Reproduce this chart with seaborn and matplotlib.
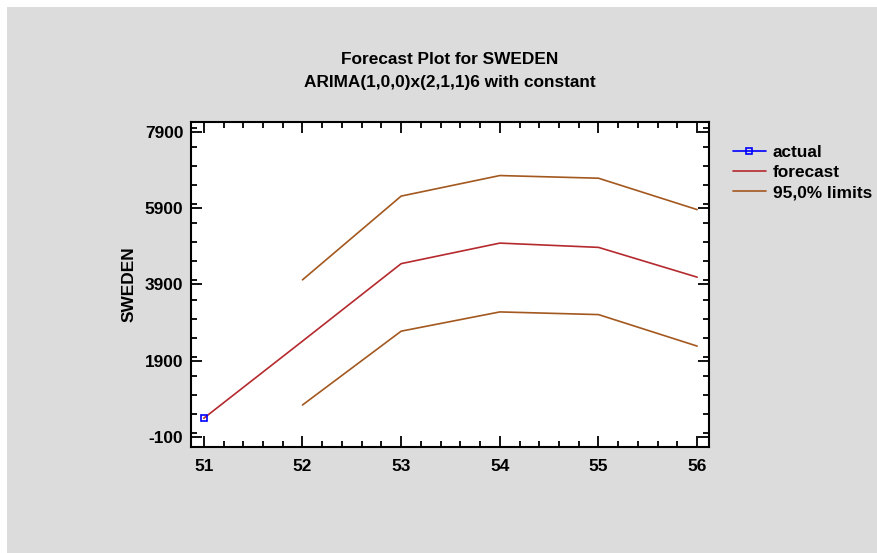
import seaborn as sns
import matplotlib.pyplot as plt
import pandas as pd
from matplotlib.patches import Rectangle
from matplotlib.ticker import MultipleLocator

sns.set_style("white")
plt.rcParams['font.family'] = ['Liberation Sans', 'DejaVu Sans']
plt.rcParams['font.weight'] = 'bold'
plt.rcParams['text.color'] = 'black'
plt.rcParams['axes.labelcolor'] = 'black'
plt.rcParams['xtick.color'] = 'black'
plt.rcParams['ytick.color'] = 'black'
plt.rcParams['axes.unicode_minus'] = False

# values
actual_x = [51]
actual_y = [394]
forecast_x = [51, 52, 53, 54, 55, 56]
forecast_y = [394, 2412, 4441, 4979, 4867, 4087]
limit_x = [52, 53, 54, 55, 56]
upper_y = [4017, 6210, 6748, 6678, 5856]
lower_y = [740, 2673, 3177, 3107, 2282]
y_ticks = [-100, 1900, 3900, 5900, 7900]

fs = 12.4

fig = plt.figure(figsize=(8.78, 5.53), dpi=100)
fig.patch.set_facecolor("white")
fig.patches.append(Rectangle((7 / 878, 0), 1, 1 - 7 / 553, transform=fig.transFigure,
                             facecolor="#dcdcdc", edgecolor="none", zorder=-10))
ax = fig.add_axes([191 / 878, 1 - 447 / 553, 518 / 878, 325 / 553])
ax.set_facecolor("white")

forecast_col = "#b52a2e"
limit_col = "#a3581f"

sns.lineplot(x=limit_x, y=upper_y, ax=ax, color=limit_col, lw=1.2, label="95,0% limits")
sns.lineplot(x=limit_x, y=lower_y, ax=ax, color=limit_col, lw=1.2, label="_nolegend_")
sns.lineplot(x=forecast_x, y=forecast_y, ax=ax, color=forecast_col, lw=1.2, label="forecast")
sns.lineplot(x=actual_x, y=actual_y, ax=ax, color="#0000ff", lw=1.2, marker="s",
             markersize=5, markerfacecolor="none", markeredgecolor="#0000ff",
             markeredgewidth=1.2, label="actual")

ax.set_xlim(50.87, 56.12)
ax.set_ylim(-360, 8150)
ax.set_xticks(forecast_x)
ax.set_yticks(y_ticks)
ax.xaxis.set_minor_locator(MultipleLocator(0.2))
ax.yaxis.set_minor_locator(MultipleLocator(500))
ax.tick_params(which="both", direction="in", top=True, right=True, bottom=True, left=True,
               width=1.3, color="black")
ax.tick_params(which="major", length=8, labelsize=fs)
ax.tick_params(axis="y", which="major", pad=5.5)
ax.tick_params(axis="x", which="major", pad=8.5)
ax.tick_params(which="minor", length=4)
for lab in ax.get_xticklabels() + ax.get_yticklabels():
    lab.set_fontweight("bold")
for s in ax.spines.values():
    s.set_color("black")
    s.set_linewidth(1.5)
    s.set_visible(True)

ax.set_xlabel("")
ax.set_ylabel("SWEDEN", fontsize=fs, fontweight="bold", labelpad=6)

fig.text(450 / 878, 1 - 60 / 553, "Forecast Plot for SWEDEN", ha="center", va="center",
         fontsize=fs, fontweight="bold")
fig.text(450 / 878, 1 - 83 / 553, "ARIMA(1,0,0)x(2,1,1)6 with constant", ha="center",
         va="center", fontsize=fs, fontweight="bold")

h, l = ax.get_legend_handles_labels()
order = [l.index("actual"), l.index("forecast"), l.index("95,0% limits")]
ax.legend([h[i] for i in order], [l[i] for i in order], loc="upper left",
          bbox_to_anchor=(733 / 878, 1 - 145 / 553), bbox_transform=fig.transFigure,
          frameon=False, prop={"weight": "bold", "size": fs}, handlelength=1.9,
          handletextpad=0.4, labelspacing=0.3, borderpad=0, borderaxespad=0)

plt.savefig("out.png", dpi=100)
